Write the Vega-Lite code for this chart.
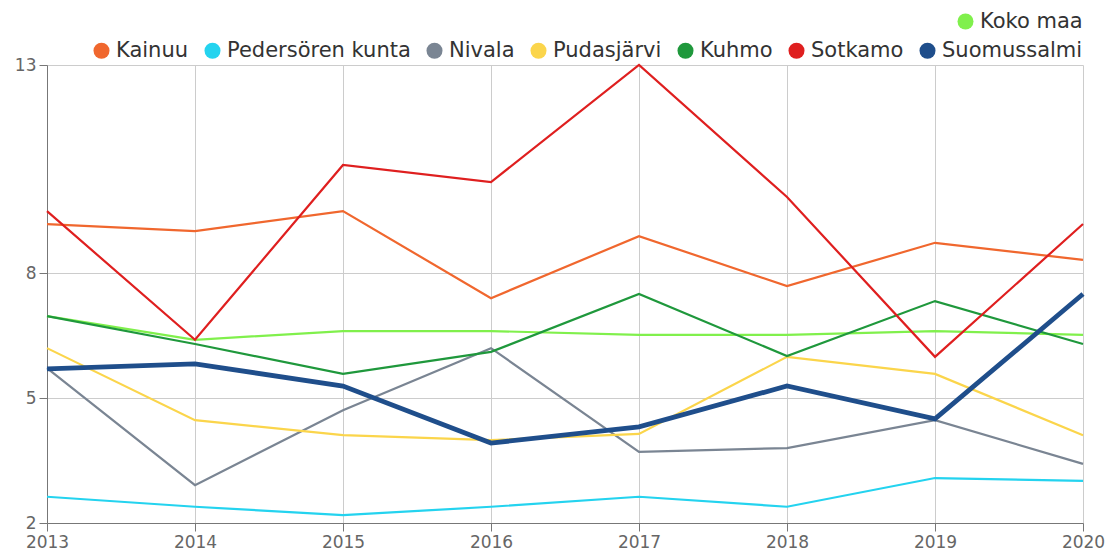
{
  "$schema": "https://vega.github.io/schema/vega-lite/v6.json",
  "width": 1036,
  "height": 458,
  "autosize": {"type": "none"},
  "padding": {"left": 47, "top": 65, "right": 27, "bottom": 28},
  "background": "white",
  "config": {
    "font": "DejaVu Sans",
    "view": {"stroke": null},
    "axis": {
      "labelFont": "DejaVu Sans",
      "labelFontSize": 17,
      "labelColor": "#666666",
      "labelFlush": false,
      "gridColor": "#cccccc",
      "gridWidth": 1,
      "domainColor": "#777777",
      "tickColor": "#777777",
      "tickSize": 8,
      "labelPadding": 3,
      "title": null
    },
    "legend": {
      "labelFont": "DejaVu Sans",
      "labelFontSize": 21,
      "labelColor": "#333333",
      "labelLimit": 400,
      "symbolType": "circle",
      "symbolSize": 256,
      "symbolStrokeWidth": 0,
      "symbolOpacity": 1,
      "direction": "horizontal",
      "orient": "none",
      "title": null,
      "columnPadding": 13,
      "labelOffset": 4
    }
  },
  "data": {
    "values": [
      {"year": 2013, "area": "Kainuu", "value": 9.18},
      {"year": 2014, "area": "Kainuu", "value": 9.01},
      {"year": 2015, "area": "Kainuu", "value": 9.49},
      {"year": 2016, "area": "Kainuu", "value": 7.40},
      {"year": 2017, "area": "Kainuu", "value": 8.89},
      {"year": 2018, "area": "Kainuu", "value": 7.69},
      {"year": 2019, "area": "Kainuu", "value": 8.73},
      {"year": 2020, "area": "Kainuu", "value": 8.32},
      {"year": 2013, "area": "Pedersören kunta", "value": 2.63},
      {"year": 2014, "area": "Pedersören kunta", "value": 2.39},
      {"year": 2015, "area": "Pedersören kunta", "value": 2.19},
      {"year": 2016, "area": "Pedersören kunta", "value": 2.39},
      {"year": 2017, "area": "Pedersören kunta", "value": 2.63},
      {"year": 2018, "area": "Pedersören kunta", "value": 2.39},
      {"year": 2019, "area": "Pedersören kunta", "value": 3.08},
      {"year": 2020, "area": "Pedersören kunta", "value": 3.01},
      {"year": 2013, "area": "Nivala", "value": 5.72},
      {"year": 2014, "area": "Nivala", "value": 2.91},
      {"year": 2015, "area": "Nivala", "value": 4.71},
      {"year": 2016, "area": "Nivala", "value": 6.20},
      {"year": 2017, "area": "Nivala", "value": 3.71},
      {"year": 2018, "area": "Nivala", "value": 3.80},
      {"year": 2019, "area": "Nivala", "value": 4.47},
      {"year": 2020, "area": "Nivala", "value": 3.42},
      {"year": 2013, "area": "Pudasjärvi", "value": 6.20},
      {"year": 2014, "area": "Pudasjärvi", "value": 4.47},
      {"year": 2015, "area": "Pudasjärvi", "value": 4.11},
      {"year": 2016, "area": "Pudasjärvi", "value": 3.99},
      {"year": 2017, "area": "Pudasjärvi", "value": 4.14},
      {"year": 2018, "area": "Pudasjärvi", "value": 5.99},
      {"year": 2019, "area": "Pudasjärvi", "value": 5.58},
      {"year": 2020, "area": "Pudasjärvi", "value": 4.11},
      {"year": 2013, "area": "Kuhmo", "value": 6.97},
      {"year": 2014, "area": "Kuhmo", "value": 6.30},
      {"year": 2015, "area": "Kuhmo", "value": 5.58},
      {"year": 2016, "area": "Kuhmo", "value": 6.11},
      {"year": 2017, "area": "Kuhmo", "value": 7.50},
      {"year": 2018, "area": "Kuhmo", "value": 6.01},
      {"year": 2019, "area": "Kuhmo", "value": 7.33},
      {"year": 2020, "area": "Kuhmo", "value": 6.30},
      {"year": 2013, "area": "Sotkamo", "value": 9.49},
      {"year": 2014, "area": "Sotkamo", "value": 6.40},
      {"year": 2015, "area": "Sotkamo", "value": 10.60},
      {"year": 2016, "area": "Sotkamo", "value": 10.19},
      {"year": 2017, "area": "Sotkamo", "value": 13.0},
      {"year": 2018, "area": "Sotkamo", "value": 9.83},
      {"year": 2019, "area": "Sotkamo", "value": 5.99},
      {"year": 2020, "area": "Sotkamo", "value": 9.18},
      {"year": 2013, "area": "Suomussalmi", "value": 5.70},
      {"year": 2014, "area": "Suomussalmi", "value": 5.82},
      {"year": 2015, "area": "Suomussalmi", "value": 5.29},
      {"year": 2016, "area": "Suomussalmi", "value": 3.92},
      {"year": 2017, "area": "Suomussalmi", "value": 4.31},
      {"year": 2018, "area": "Suomussalmi", "value": 5.29},
      {"year": 2019, "area": "Suomussalmi", "value": 4.50},
      {"year": 2020, "area": "Suomussalmi", "value": 7.50},
      {"year": 2013, "area": "Koko maa", "value": 6.97},
      {"year": 2014, "area": "Koko maa", "value": 6.40},
      {"year": 2015, "area": "Koko maa", "value": 6.61},
      {"year": 2016, "area": "Koko maa", "value": 6.61},
      {"year": 2017, "area": "Koko maa", "value": 6.52},
      {"year": 2018, "area": "Koko maa", "value": 6.52},
      {"year": 2019, "area": "Koko maa", "value": 6.61},
      {"year": 2020, "area": "Koko maa", "value": 6.52}
    ]
  },
  "encoding": {
    "x": {
      "field": "year",
      "type": "quantitative",
      "scale": {"domain": [2013, 2020], "nice": false, "zero": false},
      "axis": {"values": [2013, 2014, 2015, 2016, 2017, 2018, 2019, 2020], "format": "d", "grid": true}
    },
    "y": {
      "field": "value",
      "type": "quantitative",
      "scale": {"domain": [2, 13], "nice": false, "zero": false},
      "axis": {"values": [2, 5, 8, 13], "grid": true}
    }
  },
  "layer": [
    {
      "transform": [{"filter": "datum.area === 'Koko maa'"}],
      "mark": {"type": "line", "strokeWidth": 2.2},
      "encoding": {
        "color": {
          "field": "area",
          "type": "nominal",
          "scale": {"domain": ["Koko maa"], "range": ["#80f04c"]},
          "legend": {
            "legendX": 908,
            "legendY": -54,
            "symbolFillColor": "#80f04c"
          }
        }
      }
    },
    {
      "transform": [{"filter": "datum.area !== 'Koko maa'"}],
      "mark": {"type": "line"},
      "encoding": {
        "color": {
          "field": "area",
          "type": "nominal",
          "scale": {
            "domain": ["Kainuu", "Pedersören kunta", "Nivala", "Pudasjärvi", "Kuhmo", "Sotkamo", "Suomussalmi"],
            "range": ["#f0672e", "#24d3ef", "#7a8593", "#fbd54b", "#1f983c", "#df1f1f", "#1f4e8b"]
          },
          "legend": {
            "legendX": 44,
            "legendY": -25,
            "encode": {
              "symbols": {
                "update": {
                  "fill": {"signal": "{'Kainuu': '#f0672e', 'Pedersören kunta': '#24d3ef', 'Nivala': '#7a8593', 'Pudasjärvi': '#fbd54b', 'Kuhmo': '#1f983c', 'Sotkamo': '#df1f1f', 'Suomussalmi': '#1f4e8b'}[datum.value]"}
                }
              }
            }
          }
        },
        "strokeWidth": {
          "condition": {"test": "datum.area === 'Suomussalmi'", "value": 4.8},
          "value": 2.2
        }
      }
    }
  ],
  "resolve": {"scale": {"color": "independent"}, "legend": {"color": "independent"}}
}
